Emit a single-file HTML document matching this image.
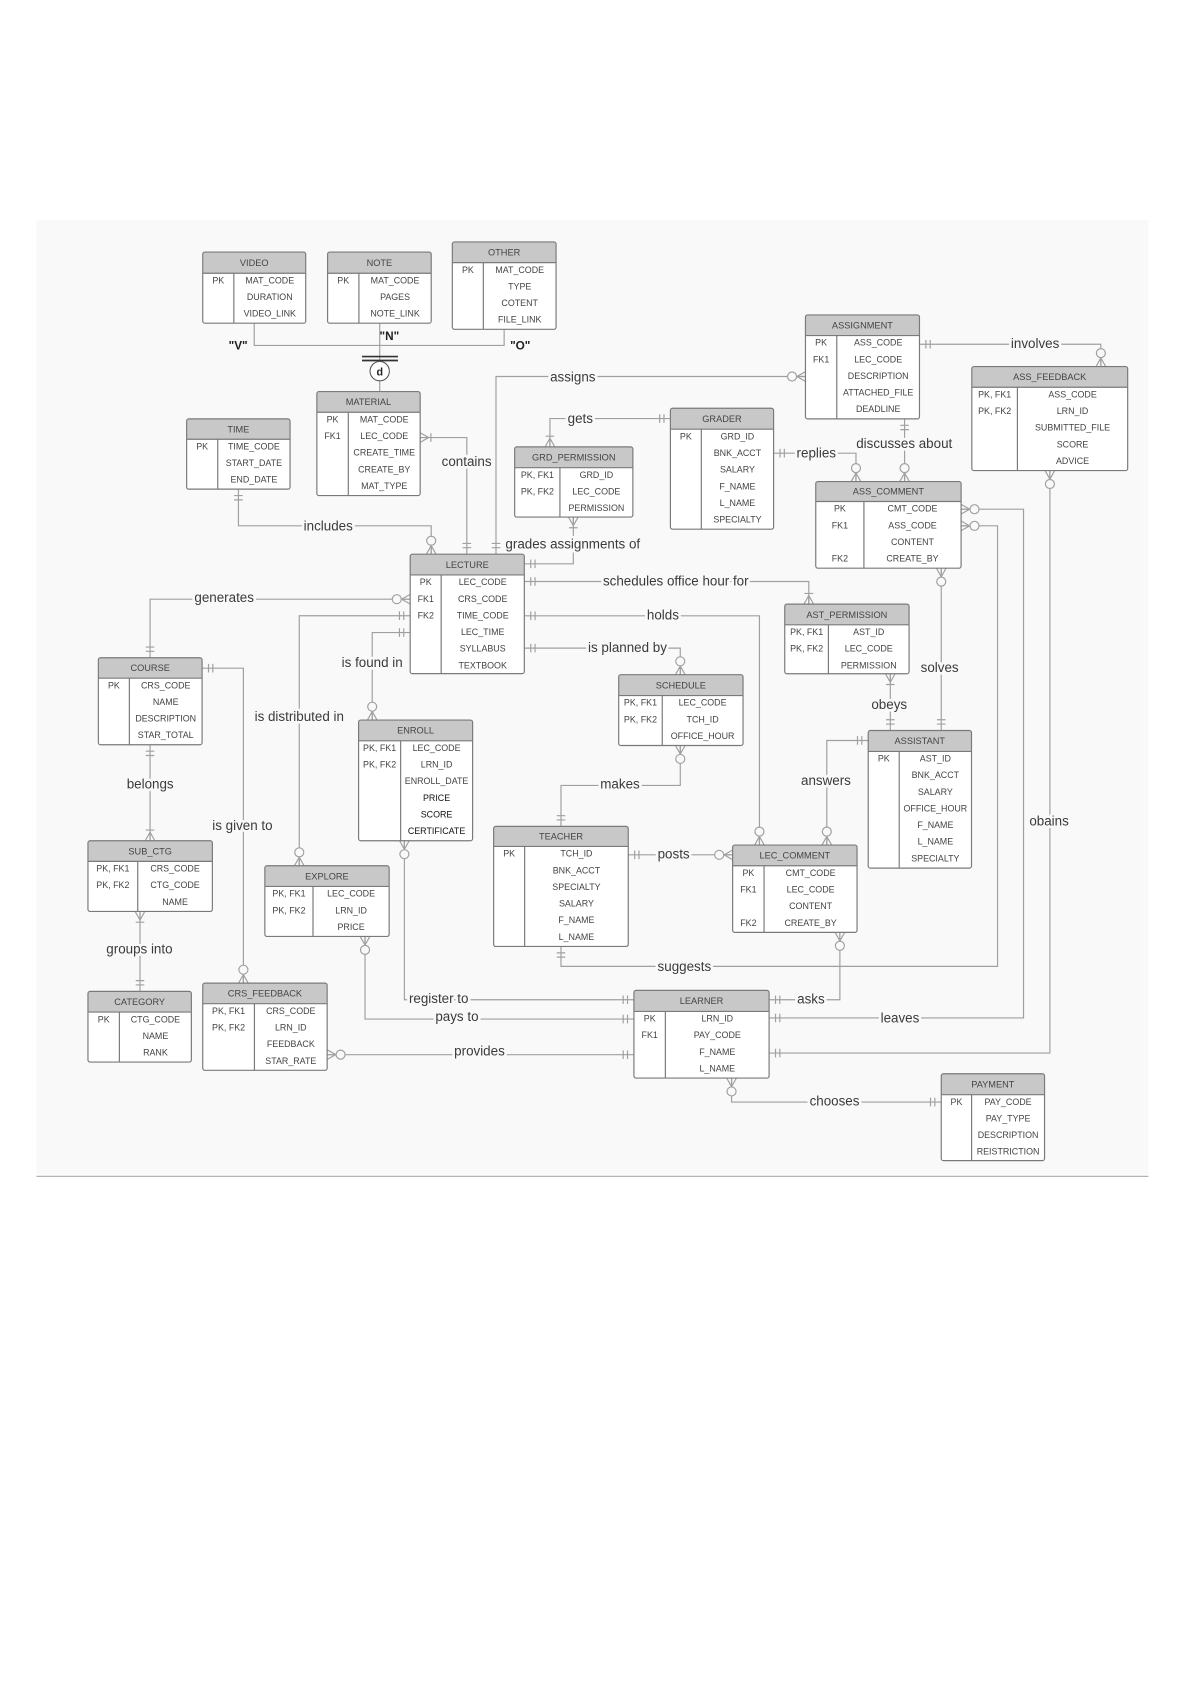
<!DOCTYPE html>
<html><head><meta charset="utf-8"><style>
html,body{margin:0;padding:0;background:#fff;}
svg{display:block;}
.e rect.f{fill:#fff;}
.e rect.h{fill:#c8c8c8;stroke:none;}
.e rect.o{fill:none;stroke:#7a7a7a;stroke-width:1.1;}
.e line{stroke:#7a7a7a;stroke-width:1.1;}
.e text{font-family:"Liberation Sans",sans-serif;font-size:8.3px;fill:#444;text-anchor:middle;}
.e text.t{font-size:8.6px;fill:#444;}
.c path{fill:none;stroke:#a0a0a0;stroke-width:1.1;}
.c use{stroke:#a0a0a0;stroke-width:1.1;fill:none;}
.l{font-family:"Liberation Sans",sans-serif;font-size:12.5px;fill:#3a3a3a;text-anchor:middle;paint-order:stroke;stroke:#f9f9f9;stroke-width:5px;stroke-linejoin:round;}
</style></head><body>
<svg width="1190" height="1684" viewBox="0 0 1109.4 1569.9" xmlns="http://www.w3.org/2000/svg">
<defs>
<g id="one"><path d="M6,-4V4M10,-4V4" fill="none"/></g>
<g id="zm"><path d="M0,-4.5L8,0L0,4.5M0,0H8" fill="none"/><circle cx="12.5" cy="0" r="4.2" fill="#f9f9f9"/></g>
<g id="om"><path d="M0,-4.5L8,0L0,4.5M0,0H8M10,-4V4" fill="none"/></g>
</defs>
<rect x="34" y="205" width="1036.6" height="890" fill="#f9f9f9"/>
<line x1="34" y1="1096.6" x2="1070.6" y2="1096.6" stroke="#aaa" stroke-width="1"/>

<!-- connectors -->
<g class="c">
<path d="M237,301.3V322H470V307M354,301.3V337M354,355V365"/>
<path d="M337.5,332.4H371M337.5,336.1H371" style="stroke:#333;stroke-width:1.6"/>
<circle cx="354" cy="346" r="9" fill="#fff" stroke="#555" stroke-width="1"/>
<path d="M391.7,407.9H435.2V516.6"/>
<use href="#om" transform="translate(391.7,407.9)"/><use href="#one" transform="translate(435.2,516.6) rotate(-90)"/>
<path d="M222.3,456V490.2H402V516.6"/>
<use href="#one" transform="translate(222.3,456) rotate(90)"/><use href="#zm" transform="translate(402,516.6) rotate(-90)"/>
<path d="M462.4,516.6V351H750.9"/>
<use href="#one" transform="translate(462.4,516.6) rotate(-90)"/><use href="#zm" transform="translate(750.9,351) rotate(180)"/>
<path d="M534.5,482V525.6H488.8"/>
<use href="#om" transform="translate(534.5,482) rotate(90)"/><use href="#one" transform="translate(488.8,525.6)"/>
<path d="M512.7,416.6V390.2H625"/>
<use href="#om" transform="translate(512.7,416.6) rotate(-90)"/><use href="#one" transform="translate(625,390.2) rotate(180)"/>
<path d="M721.2,422.5H798V448.9"/>
<use href="#one" transform="translate(721.2,422.5)"/><use href="#zm" transform="translate(798,448.9) rotate(-90)"/>
<path d="M843.3,390.5V448.9"/>
<use href="#one" transform="translate(843.3,390.5) rotate(90)"/><use href="#zm" transform="translate(843.3,448.9) rotate(-90)"/>
<path d="M857.2,320.9H1026.3V341.7"/>
<use href="#one" transform="translate(857.2,320.9)"/><use href="#zm" transform="translate(1026.3,341.7) rotate(-90)"/>
<path d="M896,474.7H954.2V949H717"/>
<use href="#zm" transform="translate(896,474.7)"/><use href="#one" transform="translate(717,949)"/>
<path d="M896,490.2H930V900.9H523V882.3"/>
<use href="#zm" transform="translate(896,490.2)"/><use href="#one" transform="translate(523,882.3) rotate(90)"/>
<path d="M978.8,438.7V981.7H717"/>
<use href="#zm" transform="translate(978.8,438.7) rotate(90)"/><use href="#one" transform="translate(717,981.7)"/>
<path d="M877.5,529.7V681"/>
<use href="#zm" transform="translate(877.5,529.7) rotate(90)"/><use href="#one" transform="translate(877.5,681) rotate(-90)"/>
<path d="M488.8,542.1H754V563.2"/>
<use href="#one" transform="translate(488.8,542.1)"/><use href="#om" transform="translate(754,563.2) rotate(-90)"/>
<path d="M488.8,574.1H708V787.8"/>
<use href="#one" transform="translate(488.8,574.1)"/><use href="#zm" transform="translate(708,787.8) rotate(-90)"/>
<path d="M488.8,604.2H634.2V629"/>
<use href="#one" transform="translate(488.8,604.2)"/><use href="#zm" transform="translate(634.2,629) rotate(-90)"/>
<path d="M830,628.1V681"/>
<use href="#om" transform="translate(830,628.1) rotate(90)"/><use href="#one" transform="translate(830,681) rotate(-90)"/>
<path d="M809.4,690.3H770.8V787.8"/>
<use href="#one" transform="translate(809.4,690.3) rotate(180)"/><use href="#zm" transform="translate(770.8,787.8) rotate(-90)"/>
<path d="M634.2,695V732.2H523V770.4"/>
<use href="#zm" transform="translate(634.2,695) rotate(90)"/><use href="#one" transform="translate(523,770.4) rotate(-90)"/>
<path d="M585.7,796.9H683"/>
<use href="#one" transform="translate(585.7,796.9)"/><use href="#zm" transform="translate(683,796.9) rotate(180)"/>
<path d="M783,869.2V932H717"/>
<use href="#zm" transform="translate(783,869.2) rotate(90)"/><use href="#one" transform="translate(717,932)"/>
<path d="M682,1005V1027.4H877.5"/>
<use href="#zm" transform="translate(682,1005) rotate(90)"/><use href="#one" transform="translate(877.5,1027.4) rotate(180)"/>
<path d="M139.9,613.2V558.6H382.4"/>
<use href="#one" transform="translate(139.9,613.2) rotate(-90)"/><use href="#zm" transform="translate(382.4,558.6) rotate(180)"/>
<path d="M382.4,574H279V807.1"/>
<use href="#one" transform="translate(382.4,574) rotate(180)"/><use href="#zm" transform="translate(279,807.1) rotate(-90)"/>
<path d="M382.4,589.7H347V671.3"/>
<use href="#one" transform="translate(382.4,589.7) rotate(180)"/><use href="#zm" transform="translate(347,671.3) rotate(-90)"/>
<path d="M188.4,622.9H226.9V916.5"/>
<use href="#one" transform="translate(188.4,622.9)"/><use href="#zm" transform="translate(226.9,916.5) rotate(-90)"/>
<path d="M139.9,694.3V783.8"/>
<use href="#one" transform="translate(139.9,694.3) rotate(90)"/><use href="#om" transform="translate(139.9,783.8) rotate(-90)"/>
<path d="M130.5,849.7V924.2"/>
<use href="#om" transform="translate(130.5,849.7) rotate(90)"/><use href="#one" transform="translate(130.5,924.2) rotate(-90)"/>
<path d="M377,783.8V932H591"/>
<use href="#zm" transform="translate(377,783.8) rotate(90)"/><use href="#one" transform="translate(591,932) rotate(180)"/>
<path d="M340.3,873V950H591"/>
<use href="#zm" transform="translate(340.3,873) rotate(90)"/><use href="#one" transform="translate(591,950) rotate(180)"/>
<path d="M305,983.2H591"/>
<use href="#zm" transform="translate(305,983.2)"/><use href="#one" transform="translate(591,983.2) rotate(180)"/>
</g>
<text x="354" y="350" style="font-family:'Liberation Sans',sans-serif;font-size:10px;font-weight:bold;fill:#222;text-anchor:middle">d</text>
<g style="font-family:'Liberation Sans',sans-serif;font-size:11px;font-weight:bold;fill:#222;text-anchor:middle">
<text x="222" y="326">"V"</text><text x="363" y="317">"N"</text><text x="485" y="326">"O"</text></g>

<!-- labels -->
<g class="l">
<text x="435" y="434.5">contains</text>
<text x="306" y="494.5">includes</text>
<text x="534" y="355.5">assigns</text>
<text x="534" y="511.5">grades assignments of</text>
<text x="541" y="394.5">gets</text>
<text x="761" y="426.5">replies</text>
<text x="843" y="417.5">discusses about</text>
<text x="965" y="324.5">involves</text>
<text x="839" y="953">leaves</text>
<text x="638" y="905">suggests</text>
<text x="978" y="769.5">obains</text>
<text x="876" y="626.5">solves</text>
<text x="630" y="546">schedules office hour for</text>
<text x="618" y="577.5">holds</text>
<text x="585" y="608">is planned by</text>
<text x="829" y="661">obeys</text>
<text x="770" y="732">answers</text>
<text x="578" y="735">makes</text>
<text x="628" y="800.5">posts</text>
<text x="756" y="935.5">asks</text>
<text x="778" y="1030.5">chooses</text>
<text x="209" y="561">generates</text>
<text x="279" y="672">is distributed in</text>
<text x="347" y="622">is found in</text>
<text x="226" y="774">is given to</text>
<text x="140" y="735">belongs</text>
<text x="130" y="889">groups into</text>
<text x="409" y="935">register to</text>
<text x="426" y="952">pays to</text>
<text x="447" y="984">provides</text>
</g>

<!-- entities -->
<g class="e">
<rect class="f" x="189" y="235" width="96" height="66.3" rx="2"/><rect class="h" x="189" y="235" width="96" height="19.7" rx="2"/><rect class="o" x="189" y="235" width="96" height="66.3" rx="2"/>
<line x1="189" y1="254.7" x2="285" y2="254.7"/><line x1="218" y1="254.7" x2="218" y2="301.3"/>
<text class="t" x="237" y="247.9">VIDEO</text><text x="203.5" y="264.2">PK</text>
<text x="251.5" y="264.2">MAT_CODE</text><text x="251.5" y="279.7">DURATION</text><text x="251.5" y="295.2">VIDEO_LINK</text>
</g>
<g class="e">
<rect class="f" x="305.4" y="235" width="96.6" height="66.3" rx="2"/><rect class="h" x="305.4" y="235" width="96.6" height="19.7" rx="2"/><rect class="o" x="305.4" y="235" width="96.6" height="66.3" rx="2"/>
<line x1="305.4" y1="254.7" x2="402" y2="254.7"/><line x1="334.6" y1="254.7" x2="334.6" y2="301.3"/>
<text class="t" x="353.7" y="247.9">NOTE</text><text x="320" y="264.2">PK</text>
<text x="368.3" y="264.2">MAT_CODE</text><text x="368.3" y="279.7">PAGES</text><text x="368.3" y="295.2">NOTE_LINK</text>
</g>
<g class="e">
<rect class="f" x="421.7" y="225.5" width="96.7" height="81.5" rx="2"/><rect class="h" x="421.7" y="225.5" width="96.7" height="19.3" rx="2"/><rect class="o" x="421.7" y="225.5" width="96.7" height="81.5" rx="2"/>
<line x1="421.7" y1="244.8" x2="518.4" y2="244.8"/><line x1="450.6" y1="244.8" x2="450.6" y2="307"/>
<text class="t" x="470" y="238.2">OTHER</text><text x="436.2" y="254.3">PK</text>
<text x="484.5" y="254.3">MAT_CODE</text><text x="484.5" y="269.8">TYPE</text><text x="484.5" y="285.3">COTENT</text><text x="484.5" y="300.8">FILE_LINK</text>
</g>
<g class="e">
<rect class="f" x="295.4" y="365" width="96.3" height="97" rx="2"/><rect class="h" x="295.4" y="365" width="96.3" height="19.3" rx="2"/><rect class="o" x="295.4" y="365" width="96.3" height="97" rx="2"/>
<line x1="295.4" y1="384.3" x2="391.7" y2="384.3"/><line x1="324.7" y1="384.3" x2="324.7" y2="462"/>
<text class="t" x="343.5" y="377.7">MATERIAL</text><text x="310" y="393.8">PK</text><text x="310" y="409.3">FK1</text>
<text x="358.2" y="393.8">MAT_CODE</text><text x="358.2" y="409.3">LEC_CODE</text><text x="358.2" y="424.8">CREATE_TIME</text><text x="358.2" y="440.3">CREATE_BY</text><text x="358.2" y="455.8">MAT_TYPE</text>
</g>
<g class="e">
<rect class="f" x="174" y="390.5" width="96.4" height="65.5" rx="2"/><rect class="h" x="174" y="390.5" width="96.4" height="19" rx="2"/><rect class="o" x="174" y="390.5" width="96.4" height="65.5" rx="2"/>
<line x1="174" y1="409.5" x2="270.4" y2="409.5"/><line x1="203" y1="409.5" x2="203" y2="456"/>
<text class="t" x="222.2" y="403">TIME</text><text x="188.5" y="419">PK</text>
<text x="236.7" y="419">TIME_CODE</text><text x="236.7" y="434.5">START_DATE</text><text x="236.7" y="450">END_DATE</text>
</g>
<g class="e">
<rect class="f" x="382.4" y="516.6" width="106.4" height="111.4" rx="2"/><rect class="h" x="382.4" y="516.6" width="106.4" height="19.4" rx="2"/><rect class="o" x="382.4" y="516.6" width="106.4" height="111.4" rx="2"/>
<line x1="382.4" y1="536" x2="488.8" y2="536"/><line x1="411.3" y1="536" x2="411.3" y2="628"/>
<text class="t" x="435.6" y="529.3">LECTURE</text><text x="396.9" y="545.5">PK</text><text x="396.9" y="561">FK1</text><text x="396.9" y="576.5">FK2</text>
<text x="450" y="545.5">LEC_CODE</text><text x="450" y="561">CRS_CODE</text><text x="450" y="576.5">TIME_CODE</text><text x="450" y="592">LEC_TIME</text><text x="450" y="607.5">SYLLABUS</text><text x="450" y="623">TEXTBOOK</text>
</g>
<g class="e">
<rect class="f" x="479.8" y="416.6" width="110.2" height="65.4" rx="2"/><rect class="h" x="479.8" y="416.6" width="110.2" height="19.4" rx="2"/><rect class="o" x="479.8" y="416.6" width="110.2" height="65.4" rx="2"/>
<line x1="479.8" y1="436" x2="590" y2="436"/><line x1="522" y1="436" x2="522" y2="482"/>
<text class="t" x="534.9" y="429.3">GRD_PERMISSION</text><text x="501" y="445.5">PK, FK1</text><text x="501" y="461">PK, FK2</text>
<text x="556" y="445.5">GRD_ID</text><text x="556" y="461">LEC_CODE</text><text x="556" y="476.5">PERMISSION</text>
</g>
<g class="e">
<rect class="f" x="625" y="380.6" width="96.2" height="112.7" rx="2"/><rect class="h" x="625" y="380.6" width="96.2" height="19.5" rx="2"/><rect class="o" x="625" y="380.6" width="96.2" height="112.7" rx="2"/>
<line x1="625" y1="400.1" x2="721.2" y2="400.1"/><line x1="653.8" y1="400.1" x2="653.8" y2="493.3"/>
<text class="t" x="673.1" y="393.4">GRADER</text><text x="639.4" y="409.6">PK</text>
<text x="687.5" y="409.6">GRD_ID</text><text x="687.5" y="425.1">BNK_ACCT</text><text x="687.5" y="440.6">SALARY</text><text x="687.5" y="456.1">F_NAME</text><text x="687.5" y="471.6">L_NAME</text><text x="687.5" y="487.1">SPECIALTY</text>
</g>
<g class="e">
<rect class="f" x="750.9" y="293.6" width="106.3" height="96.9" rx="2"/><rect class="h" x="750.9" y="293.6" width="106.3" height="19.2" rx="2"/><rect class="o" x="750.9" y="293.6" width="106.3" height="96.9" rx="2"/>
<line x1="750.9" y1="312.8" x2="857.2" y2="312.8"/><line x1="780.1" y1="312.8" x2="780.1" y2="390.5"/>
<text class="t" x="804" y="306.2">ASSIGNMENT</text><text x="765.5" y="322.3">PK</text><text x="765.5" y="337.8">FK1</text>
<text x="818.7" y="322.3">ASS_CODE</text><text x="818.7" y="337.8">LEC_CODE</text><text x="818.7" y="353.3">DESCRIPTION</text><text x="818.7" y="368.8">ATTACHED_FILE</text><text x="818.7" y="384.3">DEADLINE</text>
</g>
<g class="e">
<rect class="f" x="906" y="341.7" width="145.3" height="97" rx="2"/><rect class="h" x="906" y="341.7" width="145.3" height="19.3" rx="2"/><rect class="o" x="906" y="341.7" width="145.3" height="97" rx="2"/>
<line x1="906" y1="361" x2="1051.3" y2="361"/><line x1="948.5" y1="361" x2="948.5" y2="438.7"/>
<text class="t" x="978.6" y="354.4">ASS_FEEDBACK</text><text x="927.3" y="370.5">PK, FK1</text><text x="927.3" y="386">PK, FK2</text>
<text x="999.9" y="370.5">ASS_CODE</text><text x="999.9" y="386">LRN_ID</text><text x="999.9" y="401.5">SUBMITTED_FILE</text><text x="999.9" y="417">SCORE</text><text x="999.9" y="432.5">ADVICE</text>
</g>
<g class="e">
<rect class="f" x="760.5" y="448.9" width="135.5" height="80.8" rx="2"/><rect class="h" x="760.5" y="448.9" width="135.5" height="18.6" rx="2"/><rect class="o" x="760.5" y="448.9" width="135.5" height="80.8" rx="2"/>
<line x1="760.5" y1="467.5" x2="896" y2="467.5"/><line x1="805.4" y1="467.5" x2="805.4" y2="529.7"/>
<text class="t" x="828.2" y="461.2">ASS_COMMENT</text><text x="783" y="477">PK</text><text x="783" y="492.5">FK1</text><text x="783" y="523.5">FK2</text>
<text x="850.7" y="477">CMT_CODE</text><text x="850.7" y="492.5">ASS_CODE</text><text x="850.7" y="508">CONTENT</text><text x="850.7" y="523.5">CREATE_BY</text>
</g>
<g class="e">
<rect class="f" x="731.6" y="563.2" width="115.9" height="64.9" rx="2"/><rect class="h" x="731.6" y="563.2" width="115.9" height="19.3" rx="2"/><rect class="o" x="731.6" y="563.2" width="115.9" height="64.9" rx="2"/>
<line x1="731.6" y1="582.5" x2="847.5" y2="582.5"/><line x1="772.3" y1="582.5" x2="772.3" y2="628.1"/>
<text class="t" x="789.5" y="575.9">AST_PERMISSION</text><text x="752" y="592">PK, FK1</text><text x="752" y="607.5">PK, FK2</text>
<text x="809.9" y="592">AST_ID</text><text x="809.9" y="607.5">LEC_CODE</text><text x="809.9" y="623">PERMISSION</text>
</g>
<g class="e">
<rect class="f" x="576.8" y="629" width="115.9" height="66" rx="2"/><rect class="h" x="576.8" y="629" width="115.9" height="19.4" rx="2"/><rect class="o" x="576.8" y="629" width="115.9" height="66" rx="2"/>
<line x1="576.8" y1="648.4" x2="692.7" y2="648.4"/><line x1="617.4" y1="648.4" x2="617.4" y2="695"/>
<text class="t" x="634.7" y="641.7">SCHEDULE</text><text x="597.1" y="657.9">PK, FK1</text><text x="597.1" y="673.4">PK, FK2</text>
<text x="655" y="657.9">LEC_CODE</text><text x="655" y="673.4">TCH_ID</text><text x="655" y="688.9">OFFICE_HOUR</text>
</g>
<g class="e">
<rect class="f" x="809.4" y="681" width="96.3" height="128.3" rx="2"/><rect class="h" x="809.4" y="681" width="96.3" height="19.5" rx="2"/><rect class="o" x="809.4" y="681" width="96.3" height="128.3" rx="2"/>
<line x1="809.4" y1="700.5" x2="905.7" y2="700.5"/><line x1="838.3" y1="700.5" x2="838.3" y2="809.3"/>
<text class="t" x="857.5" y="693.8">ASSISTANT</text><text x="823.9" y="710">PK</text>
<text x="872" y="710">AST_ID</text><text x="872" y="725.5">BNK_ACCT</text><text x="872" y="741">SALARY</text><text x="872" y="756.5">OFFICE_HOUR</text><text x="872" y="772">F_NAME</text><text x="872" y="787.5">L_NAME</text><text x="872" y="803">SPECIALTY</text>
</g>
<g class="e">
<rect class="f" x="91.7" y="613.2" width="96.7" height="81.1" rx="2"/><rect class="h" x="91.7" y="613.2" width="96.7" height="19" rx="2"/><rect class="o" x="91.7" y="613.2" width="96.7" height="81.1" rx="2"/>
<line x1="91.7" y1="632.2" x2="188.4" y2="632.2"/><line x1="120.6" y1="632.2" x2="120.6" y2="694.3"/>
<text class="t" x="140" y="625.7">COURSE</text><text x="106.2" y="641.7">PK</text>
<text x="154.5" y="641.7">CRS_CODE</text><text x="154.5" y="657.2">NAME</text><text x="154.5" y="672.7">DESCRIPTION</text><text x="154.5" y="688.2">STAR_TOTAL</text>
</g>
<g class="e">
<rect class="f" x="82" y="783.8" width="116" height="65.9" rx="2"/><rect class="h" x="82" y="783.8" width="116" height="19.2" rx="2"/><rect class="o" x="82" y="783.8" width="116" height="65.9" rx="2"/>
<line x1="82" y1="803" x2="198" y2="803"/><line x1="128.4" y1="803" x2="128.4" y2="849.7"/>
<text class="t" x="140" y="796.4">SUB_CTG</text><text x="105.2" y="812.5">PK, FK1</text><text x="105.2" y="828">PK, FK2</text>
<text x="163.2" y="812.5">CRS_CODE</text><text x="163.2" y="828">CTG_CODE</text><text x="163.2" y="843.5">NAME</text>
</g>
<g class="e">
<rect class="f" x="82" y="924.2" width="96.4" height="65.9" rx="2"/><rect class="h" x="82" y="924.2" width="96.4" height="19.3" rx="2"/><rect class="o" x="82" y="924.2" width="96.4" height="65.9" rx="2"/>
<line x1="82" y1="943.5" x2="178.4" y2="943.5"/><line x1="111.3" y1="943.5" x2="111.3" y2="990.1"/>
<text class="t" x="130.2" y="936.9">CATEGORY</text><text x="96.7" y="953">PK</text>
<text x="144.9" y="953">CTG_CODE</text><text x="144.9" y="968.5">NAME</text><text x="144.9" y="984">RANK</text>
</g>
<g class="e">
<rect class="f" x="189" y="916.5" width="116" height="81.3" rx="2"/><rect class="h" x="189" y="916.5" width="116" height="19.2" rx="2"/><rect class="o" x="189" y="916.5" width="116" height="81.3" rx="2"/>
<line x1="189" y1="935.7" x2="305" y2="935.7"/><line x1="237.2" y1="935.7" x2="237.2" y2="997.8"/>
<text class="t" x="247" y="929.1">CRS_FEEDBACK</text><text x="213.1" y="945.2">PK, FK1</text><text x="213.1" y="960.7">PK, FK2</text>
<text x="271.1" y="945.2">CRS_CODE</text><text x="271.1" y="960.7">LRN_ID</text><text x="271.1" y="976.2">FEEDBACK</text><text x="271.1" y="991.7">STAR_RATE</text>
</g>
<g class="e">
<rect class="f" x="246.9" y="807.1" width="115.9" height="65.9" rx="2"/><rect class="h" x="246.9" y="807.1" width="115.9" height="19.3" rx="2"/><rect class="o" x="246.9" y="807.1" width="115.9" height="65.9" rx="2"/>
<line x1="246.9" y1="826.4" x2="362.8" y2="826.4"/><line x1="291.8" y1="826.4" x2="291.8" y2="873"/>
<text class="t" x="304.8" y="819.8">EXPLORE</text><text x="269.4" y="835.9">PK, FK1</text><text x="269.4" y="851.4">PK, FK2</text>
<text x="327.3" y="835.9">LEC_CODE</text><text x="327.3" y="851.4">LRN_ID</text><text x="327.3" y="866.9">PRICE</text>
</g>
<g class="e">
<rect class="f" x="334.3" y="671.3" width="106.3" height="112.5" rx="2"/><rect class="h" x="334.3" y="671.3" width="106.3" height="19.3" rx="2"/><rect class="o" x="334.3" y="671.3" width="106.3" height="112.5" rx="2"/>
<line x1="334.3" y1="690.6" x2="440.6" y2="690.6"/><line x1="373.5" y1="690.6" x2="373.5" y2="783.8"/>
<text class="t" x="387.4" y="684">ENROLL</text><text x="353.9" y="700.1">PK, FK1</text><text x="353.9" y="715.6">PK, FK2</text>
<text x="407" y="700.1">LEC_CODE</text><text x="407" y="715.6">LRN_ID</text><text x="407" y="731.1">ENROLL_DATE</text>
<text x="407" y="746.6" style="fill:#111">PRICE</text><text x="407" y="762.1" style="fill:#111">SCORE</text><text x="407" y="777.6" style="fill:#111">CERTIFICATE</text>
</g>
<g class="e">
<rect class="f" x="460.2" y="770.4" width="125.5" height="111.9" rx="2"/><rect class="h" x="460.2" y="770.4" width="125.5" height="18.7" rx="2"/><rect class="o" x="460.2" y="770.4" width="125.5" height="111.9" rx="2"/>
<line x1="460.2" y1="789.1" x2="585.7" y2="789.1"/><line x1="489.1" y1="789.1" x2="489.1" y2="882.3"/>
<text class="t" x="523" y="782.8">TEACHER</text><text x="474.7" y="798.6">PK</text>
<text x="537.4" y="798.6">TCH_ID</text><text x="537.4" y="814.1">BNK_ACCT</text><text x="537.4" y="829.6">SPECIALTY</text><text x="537.4" y="845.1">SALARY</text><text x="537.4" y="860.6">F_NAME</text><text x="537.4" y="876.1">L_NAME</text>
</g>
<g class="e">
<rect class="f" x="683" y="787.8" width="116" height="81.4" rx="2"/><rect class="h" x="683" y="787.8" width="116" height="19.3" rx="2"/><rect class="o" x="683" y="787.8" width="116" height="81.4" rx="2"/>
<line x1="683" y1="807.1" x2="799" y2="807.1"/><line x1="712.3" y1="807.1" x2="712.3" y2="869.2"/>
<text class="t" x="741" y="800.5">LEC_COMMENT</text><text x="697.7" y="816.6">PK</text><text x="697.7" y="832.1">FK1</text><text x="697.7" y="863.1">FK2</text>
<text x="755.7" y="816.6">CMT_CODE</text><text x="755.7" y="832.1">LEC_CODE</text><text x="755.7" y="847.6">CONTENT</text><text x="755.7" y="863.1">CREATE_BY</text>
</g>
<g class="e">
<rect class="f" x="591" y="923.3" width="126" height="81.7" rx="2"/><rect class="h" x="591" y="923.3" width="126" height="19.6" rx="2"/><rect class="o" x="591" y="923.3" width="126" height="81.7" rx="2"/>
<line x1="591" y1="942.9" x2="717" y2="942.9"/><line x1="620.3" y1="942.9" x2="620.3" y2="1005"/>
<text class="t" x="654" y="936.1">LEARNER</text><text x="605.7" y="952.4">PK</text><text x="605.7" y="967.9">FK1</text>
<text x="668.7" y="952.4">LRN_ID</text><text x="668.7" y="967.9">PAY_CODE</text><text x="668.7" y="983.4">F_NAME</text><text x="668.7" y="998.9">L_NAME</text>
</g>
<g class="e">
<rect class="f" x="877.5" y="1001" width="96.3" height="81" rx="2"/><rect class="h" x="877.5" y="1001" width="96.3" height="19.5" rx="2"/><rect class="o" x="877.5" y="1001" width="96.3" height="81" rx="2"/>
<line x1="877.5" y1="1020.5" x2="973.8" y2="1020.5"/><line x1="905.8" y1="1020.5" x2="905.8" y2="1082"/>
<text class="t" x="925.6" y="1013.8">PAYMENT</text><text x="891.7" y="1030">PK</text>
<text x="939.8" y="1030">PAY_CODE</text><text x="939.8" y="1045.5">PAY_TYPE</text><text x="939.8" y="1061">DESCRIPTION</text><text x="939.8" y="1076.5">REISTRICTION</text>
</g>
</svg>
</body></html>
